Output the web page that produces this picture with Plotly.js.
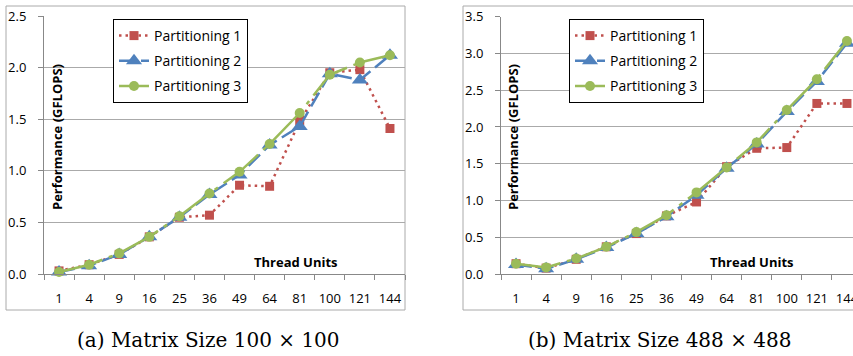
<!DOCTYPE html>
<html><head><meta charset="utf-8">
<script src="https://cdn.plot.ly/plotly-3.0.1.min.js"></script>
<style>html,body{margin:0;padding:0;background:#fff;}#chart{width:853px;height:356px;}</style>
</head><body><div id="chart"></div>
<script>
const threadUnits = ["1","4","9","16","25","36","49","64","81","100","121","144"];
const seriesNames = ["Partitioning 1","Partitioning 2","Partitioning 3"];

// (a) Matrix Size 100 x 100
const a_p1 = [0.03,0.09,0.19,0.36,0.55,0.57,0.86,0.85,1.48,1.95,1.98,1.41];
const a_p2 = [0.02,0.08,0.19,0.36,0.55,0.77,0.96,1.25,1.43,1.94,1.88,2.12];
const a_p3 = [0.02,0.09,0.20,0.36,0.56,0.78,0.99,1.26,1.56,1.93,2.05,2.12];

// (b) Matrix Size 488 x 488
const b_p1 = [0.14,0.08,0.20,0.37,0.55,0.79,0.98,1.46,1.71,1.72,2.32,2.32];
const b_p2 = [0.13,0.07,0.20,0.36,0.55,0.78,1.07,1.44,1.77,2.21,2.62,3.14];
const b_p3 = [0.14,0.09,0.21,0.37,0.57,0.80,1.11,1.45,1.79,2.23,2.65,3.17];

const captions = ["(a) Matrix Size 100 × 100","(b) Matrix Size 488 × 488"];

const red = "#C0504D", blue = "#4F81BD", green = "#9BBB59";
const W = 853, H = 356;
const px = v => v / W, py = v => (H - v) / H;

const styles = [
  {color: red, dash: "2.5px,4px", symbol: "square", size: 9},
  {color: blue, dash: "16px,6px", symbol: "triangle-up", size: 14},
  {color: green, dash: "45px,7px,4px,7px", symbol: "circle", size: 10}
];

function mk(vals, i, xa, ya, leg) {
  const s = styles[i];
  return {
    x: threadUnits, y: vals, type: "scatter", mode: "lines+markers",
    name: seriesNames[i], xaxis: xa, yaxis: ya, legend: leg,
    legendgroup: leg + "_" + i,
    cliponaxis: false,
    line: {color: s.color, width: 2.5, dash: s.dash},
    marker: {color: s.color, symbol: s.symbol, size: s.size}
  };
}

const data = [
  mk(a_p1,0,"x","y","legend"), mk(a_p2,1,"x","y","legend"), mk(a_p3,2,"x","y","legend"),
  mk(b_p1,0,"x2","y2","legend2"), mk(b_p2,1,"x2","y2","legend2"), mk(b_p3,2,"x2","y2","legend2")
];

const FAM = "Open Sans, sans-serif";
const tickFont = {family: FAM, size: 13, color: "#000"};
const catW = 361 / 12;

function xax(d0, d1, r1) {
  return {
    domain: [d0, d1], type: "category", range: [-0.5, r1],
    tickson: "boundaries", ticks: "outside", ticklen: 5, tickcolor: "#888",
    showgrid: false, showline: true, linecolor: "#888", linewidth: 1,
    tickangle: 0, automargin: false,
    tickfont: tickFont, ticklabelstandoff: 12, zeroline: false, fixedrange: true
  };
}
function yax(d0, d1, maxv, anchor) {
  return {
    domain: [d0, d1], range: [0, maxv], dtick: 0.5, tickformat: ".1f",
    ticks: "outside", ticklen: 5, tickcolor: "#888",
    showgrid: true, gridcolor: "#aaaaaa", gridwidth: 1,
    showline: true, linecolor: "#888", linewidth: 1, zeroline: false,
    tickfont: tickFont, ticklabelstandoff: 9, anchor: anchor, fixedrange: true
  };
}

const legStyle = (x) => ({
  x: x, y: py(19), xanchor: "left", yanchor: "top",
  bordercolor: "#000", borderwidth: 1, bgcolor: "#fff",
  font: {family: FAM, size: 14, color: "#000"},
  tracegroupgap: 4, itemwidth: 30
});

const titleFont = {family: FAM, size: 13, color: "#000"};
const capFont = {family: "DejaVu Serif, serif", size: 20, color: "#000"};

const layout = {
  width: W, height: H, margin: {l: 0, r: 0, t: 0, b: 0},
  paper_bgcolor: "#fff", plot_bgcolor: "rgba(0,0,0,0)",
  showlegend: true,
  xaxis: xax(px(44), px(405), 11.5),
  yaxis: yax(py(274), py(16), 2.5, "x"),
  xaxis2: xax(px(501), 1, -0.5 + (W - 501) / catW),
  yaxis2: yax(py(274), py(16.7), 3.5, "x2"),
  legend: legStyle(px(113)),
  legend2: legStyle(px(569)),
  shapes: [
    {type: "rect", xref: "paper", yref: "paper", x0: px(6), x1: px(405), y0: py(310), y1: py(6),
     line: {color: "#aaa", width: 1}, layer: "below"},
    {type: "rect", xref: "paper", yref: "paper", x0: px(463), x1: 1.05, y0: py(310), y1: py(6),
     line: {color: "#aaa", width: 1}, layer: "below"}
  ],
  annotations: [
    {text: "<b>Performance (GFLOPS)</b>", xref: "paper", yref: "paper", x: px(57), y: py(137),
     xanchor: "center", yanchor: "middle", textangle: -90, showarrow: false, font: titleFont},
    {text: "<b>Performance (GFLOPS)</b>", xref: "paper", yref: "paper", x: px(513), y: py(137),
     xanchor: "center", yanchor: "middle", textangle: -90, showarrow: false, font: titleFont},
    {text: "<b>Thread Units</b>", xref: "paper", yref: "paper", x: px(296), y: py(262),
     xanchor: "center", yanchor: "middle", showarrow: false, font: titleFont},
    {text: "<b>Thread Units</b>", xref: "paper", yref: "paper", x: px(752), y: py(262),
     xanchor: "center", yanchor: "middle", showarrow: false, font: titleFont},
    {text: captions[0], xref: "paper", yref: "paper", x: px(208), y: py(340),
     xanchor: "center", yanchor: "middle", showarrow: false, font: capFont},
    {text: captions[1], xref: "paper", yref: "paper", x: px(659), y: py(340),
     xanchor: "center", yanchor: "middle", showarrow: false, font: capFont}
  ]
};

Plotly.newPlot("chart", data, layout, {staticPlot: true, displayModeBar: false});
</script>
</body></html>
